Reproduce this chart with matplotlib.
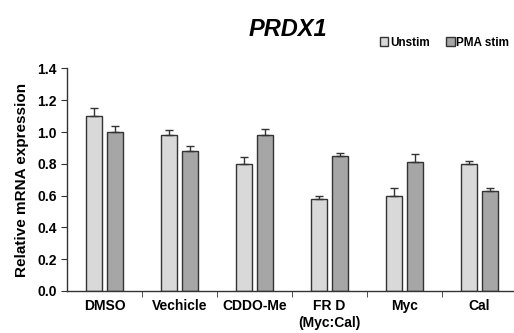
import matplotlib

matplotlib.use("Agg")
import matplotlib.pyplot as plt
import numpy as np

categories = ["DMSO", "Vechicle", "CDDO-Me", "FR D\n(Myc:Cal)", "Myc", "Cal"]
unstim = [1.10, 0.98, 0.80, 0.58, 0.60, 0.80]
unstim_err = [0.05, 0.03, 0.04, 0.02, 0.05, 0.02]
pma = [1.00, 0.88, 0.98, 0.85, 0.81, 0.63]
pma_err = [0.04, 0.03, 0.04, 0.02, 0.05, 0.02]
y_ticks = [0.0, 0.2, 0.4, 0.6, 0.8, 1.0, 1.2, 1.4]

plt.rcParams["font.family"] = ["Liberation Sans", "DejaVu Sans"]
plt.rcParams["font.weight"] = "bold"

fig = plt.figure(figsize=(5.14, 3.33), dpi=100)
ax = fig.add_axes([67 / 514, 42 / 333, 446 / 514, 222.6 / 333])

x = np.arange(len(categories))
width = 0.22
offset = 0.143
edge = "#333333"
ax.bar(x - offset, unstim, width, color="#d9d9d9", edgecolor=edge, linewidth=1.0,
       yerr=[np.zeros(len(unstim)), unstim_err], capsize=3,
       error_kw=dict(ecolor=edge, elinewidth=1.0, capthick=1.0), label="Unstim")
ax.bar(x + offset, pma, width, color="#a6a6a6", edgecolor=edge, linewidth=1.0,
       yerr=[np.zeros(len(pma)), pma_err], capsize=3,
       error_kw=dict(ecolor=edge, elinewidth=1.0, capthick=1.0), label="PMA stim")

ax.set_xlim(-0.5, -0.5 + 446 / 75)
ax.set_ylim(0, 1.4)
ax.set_yticks(y_ticks)
ax.set_yticklabels([f"{v:.1f}" for v in y_ticks], fontsize=10, fontweight="bold")
ax.set_xticks(x)
ax.set_xticklabels(categories, fontsize=10, fontweight="bold")
ax.tick_params(axis="x", length=0, pad=6)
ax.set_xticks(np.arange(0.5, len(categories) - 0.5, 1.0), minor=True)
ax.tick_params(axis="x", which="minor", length=4, direction="out", color=edge)
ax.tick_params(axis="y", length=4, direction="out", color=edge)
ax.spines[["top", "right"]].set_visible(False)
for side in ["left", "bottom"]:
    ax.spines[side].set_color(edge)
    ax.spines[side].set_linewidth(1.0)
ax.set_ylabel("Relative mRNA expression", fontsize=11, fontweight="bold", labelpad=6)

fig.text(288 / 514, 1 - 30 / 333, "PRDX1", ha="center", va="center",
         fontsize=17, fontweight="bold", fontstyle="italic")
fig.legend(loc="upper right", bbox_to_anchor=(1.0, 1 - 32 / 333), ncol=2,
           frameon=False, fontsize=8.5, handlelength=0.7, handleheight=0.7,
           handletextpad=0.15, columnspacing=1.4, borderaxespad=0)

fig.savefig("out.png", dpi=100)
